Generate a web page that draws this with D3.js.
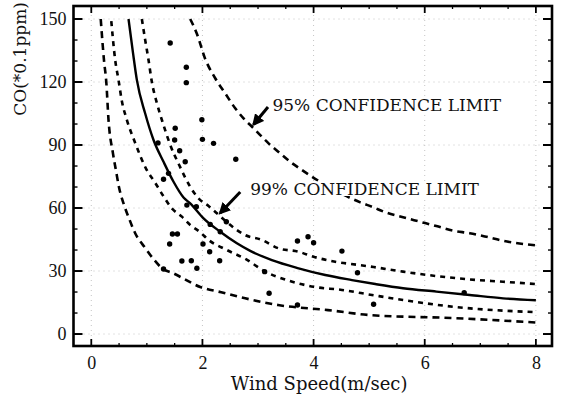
<!DOCTYPE html>
<html>
<head>
<meta charset="utf-8">
<script src="https://cdn.jsdelivr.net/npm/d3@7"></script>
<style>
	body { margin:0; background:#fff; }
	#container { width:563px; height:402px; }
	.lbl { font-family:"DejaVu Serif", serif; font-size:17px; fill:#111; }
	.tick text { font-family:"Liberation Serif", serif; font-size:18px; fill:#111; }
</style>
</head>
<body>
<div id="container"></div>
<script>

// scatter observations (wind speed m/s, CO *0.1ppm)
var obsWind = [1.42,1.71,1.71,1.99,1.51,1.20,1.50,2.00,2.20,1.59,2.60,1.69,1.30,1.39,1.72,1.89,2.43,2.14,1.46,1.55,2.32,1.41,2.01,2.13,2.31,1.63,1.80,1.90,1.30,3.71,3.90,4.00,4.51,4.79,3.12,3.20,3.71,5.08,6.71];
var obsCO   = [138.6,127,119.7,102,98,91,92.4,92.7,90.8,87.3,83.2,82,73.7,76.5,61.4,60.6,53.5,52.2,47.6,47.6,48.7,42.9,42.9,39.2,34.9,34.8,34.9,31.3,31,44.3,46.3,43.5,39.5,29.2,29.7,19.4,13.8,14.2,19.7];

// regression curve
var meanWind = [0.67,0.75,0.82,0.97,1.12,1.30,1.48,1.66,1.78,2.02,2.32,2.62,2.86,3.25,3.73,4.21,4.69,5.11,5.61,6.21,6.81,7.41,8.0];
var meanCO   = [150,134,121,105,92.4,82,72.5,65,62.2,55.1,48.7,43.2,39.6,35.2,31.3,28.1,25.7,23.8,21.8,20.2,18.6,17,16.1];

// 99% limits
var up99Wind = [0.91,0.97,1.03,1.09,1.18,1.30,1.41,1.59,1.78,1.93,2.11,2.43,2.62,2.77,3.07,3.37,3.73,4.0,4.39,4.81,5.08,5.61,6.21,6.81,7.41,8.0];
var up99CO   = [150,140,130.5,120,110,99.5,90.8,80,70.1,64.6,61,53.5,49.5,47.1,44.8,40.8,39.2,36.8,34.4,32.9,31.9,29.7,27.6,26,24.9,23.8];
var lo99Wind = [0.36,0.43,0.49,0.55,0.64,0.79,0.98,1.15,1.29,1.45,1.63,1.78,1.95,2.11,2.44,2.79,3.13,3.52,4.0,4.51,5.05,5.61,6.51,8.0];
var lo99CO   = [149,130.5,121,111,102,91,79,72,66,59.8,55.9,51.9,48.7,44.8,40,35.5,29.7,25.7,22.5,21,18.6,16.2,13,10.4];

// 95% limits
var up95Wind = [1.78,1.90,2.05,2.23,2.41,2.59,2.74,2.92,3.19,3.40,3.58,3.79,4.84,5.05,5.31,5.61,5.91,6.21,6.51,6.81,7.11,7.41,8.0];
var up95CO   = [150,143,131,121.8,114.6,107.5,102.7,98,90.8,86,82,78.1,62.7,60.6,57.8,55.6,53.5,51.4,49.2,48,46.3,44.4,42.2];
var lo95Wind = [0.17,0.23,0.27,0.31,0.39,0.45,0.49,0.59,0.68,0.79,0.97,1.11,1.29,1.47,1.64,1.96,2.32,2.77,3.36,4.26,5.02,6.51,8.0];
var lo95CO   = [150,130,120,102,86,77,71,61.4,55,48,41,36,31,29,26.7,22.4,20,17,13.8,11.4,9,7.6,5.5];

var xTicks = [0,2,4,6,8];
var yTicks = [0,30,60,90,120,150];

function zip(a, b) {
	var out = [];
	for (var i=0; i<a.length; i++) out.push([a[i], b[i]]);
	return out;
}

function render() {
	var width = 563, height = 402;
	var svg = d3.select("#container")
		.append('svg')
		.attr("width", width)
		.attr('height', height);

	var x = d3.scaleLinear().domain([-0.32, 8.29]).range([73.5, 552]);
	var y = d3.scaleLinear().domain([-5.7, 156.2]).range([346, 6]);

	// faint dotted grid
	var grid = svg.append('g').attr('stroke','#c4c4c4').attr('stroke-width',1).attr('stroke-dasharray','1,4');
	grid.selectAll('.hg').data(yTicks).enter().append('line')
		.attr('x1', x.range()[0]).attr('x2', x.range()[1])
		.attr('y1', d => y(d)).attr('y2', d => y(d));
	grid.selectAll('.vg').data(xTicks).enter().append('line')
		.attr('y1', y.range()[0]).attr('y2', y.range()[1])
		.attr('x1', d => x(d)).attr('x2', d => x(d));

	// curves
	var line = d3.line()
		.x(d => x(d[0]))
		.y(d => y(d[1]))
		.curve(d3.curveMonotoneX);

	var curves = [
		{pts: zip(meanWind, meanCO), dash: null, w: 2.4},
		{pts: zip(up99Wind, up99CO), dash: '5,5', w: 2.6},
		{pts: zip(lo99Wind, lo99CO), dash: '5,5', w: 2.6},
		{pts: zip(up95Wind, up95CO), dash: '7,5', w: 2.6},
		{pts: zip(lo95Wind, lo95CO), dash: '7,5', w: 2.6}
	];
	svg.selectAll('.curve').data(curves).enter().append('path')
		.attr('class','curve')
		.attr('d', d => line(d.pts))
		.attr('fill','none')
		.attr('stroke','#000')
		.attr('stroke-width', d => d.w)
		.attr('stroke-dasharray', d => d.dash);

	// observations
	svg.selectAll('.obs').data(zip(obsWind, obsCO)).enter().append('circle')
		.attr('class','obs')
		.attr('cx', d => x(d[0]))
		.attr('cy', d => y(d[1]))
		.attr('r', 2.7)
		.attr('fill','#000');

	// annotations
	var defs = svg.append('defs');
	defs.append('marker')
		.attr('id','head')
		.attr('viewBox','0 0 10 10')
		.attr('refX', 8).attr('refY', 5)
		.attr('markerWidth', 4).attr('markerHeight', 4)
		.attr('orient','auto')
		.append('path').attr('d','M0,0L10,5L0,10z').attr('fill','#000');

	var notes = [
		{text:'95% CONFIDENCE LIMIT', tx:3.26, ty:106, ax:[3.18,108.1], ah:[2.92,99.8]},
		{text:'99% CONFIDENCE LIMIT', tx:2.86, ty:66.2, ax:[2.68,67.6], ah:[2.32,57.6]}
	];
	notes.forEach(function(n) {
		var t = svg.append('text')
			.attr('class','lbl')
			.attr('x', x(n.tx))
			.attr('y', y(n.ty))
			.text(n.text);
		var bb = t.node().getBBox();
		svg.insert('rect', 'text')
			.attr('x', bb.x).attr('y', bb.y + 3)
			.attr('width', bb.width).attr('height', bb.height - 6)
			.attr('fill','#fff');
		svg.append('line')
			.attr('x1', x(n.ax[0])).attr('y1', y(n.ax[1]))
			.attr('x2', x(n.ah[0])).attr('y2', y(n.ah[1]))
			.attr('stroke','#000')
			.attr('stroke-width', 3)
			.attr('marker-end','url(#head)');
	});

	// axes with inward ticks
	var minorX = d3.range(0, 8.01, 0.5);
	var minorY = d3.range(0, 151, 10);
	function tickLines(sel, data, fn) {
		sel.selectAll('line').data(data).enter().append('line').each(fn);
	}
	var ax = svg.append('g').attr('stroke','#000');
	// left & right
	[x.range()[0], x.range()[1]].forEach(function(px, k) {
		var dir = k === 0 ? 1 : -1;
		var g = ax.append('g');
		tickLines(g, minorY, function(d) {
			var len = (d % 30 === 0) ? 9 : 4;
			d3.select(this).attr('x1', px).attr('x2', px + dir * len)
				.attr('y1', y(d)).attr('y2', y(d))
				.attr('stroke-width', (d % 30 === 0) ? 2 : 1.4);
		});
	});
	// bottom & top
	[y.range()[0], y.range()[1]].forEach(function(py, k) {
		var dir = k === 0 ? -1 : 1;
		var g = ax.append('g');
		tickLines(g, minorX, function(d) {
			var len = (d % 2 === 0) ? 7 : 3;
			d3.select(this).attr('y1', py).attr('y2', py + dir * len)
				.attr('x1', x(d)).attr('x2', x(d))
				.attr('stroke-width', (d % 2 === 0) ? 1.8 : 1.3);
		});
	});

	svg.append('rect')
		.attr('x', x.range()[0]).attr('y', y.range()[1])
		.attr('width', x.range()[1] - x.range()[0])
		.attr('height', y.range()[0] - y.range()[1])
		.attr('fill','none')
		.attr('stroke','#000')
		.attr('stroke-width', 2.6);

	// tick labels through d3 axes (tick marks hidden)
	svg.append('g')
		.attr('transform','translate(0,' + y.range()[0] + ')')
		.call(d3.axisBottom(x).tickValues(xTicks).tickSize(0).tickPadding(10).tickFormat(d3.format('d')))
		.call(g => g.select('.domain').remove());
	svg.append('g')
		.attr('transform','translate(' + x.range()[0] + ',0)')
		.call(d3.axisLeft(y).tickValues(yTicks).tickSize(0).tickPadding(7).tickFormat(d3.format('d')))
		.call(g => g.select('.domain').remove());

	svg.append('text')
		.attr('class','lbl')
		.style('font-size','18px')
		.attr('x', x(4.1))
		.attr('y', 390)
		.attr('text-anchor','middle')
		.text('Wind Speed(m/sec)');

	svg.append('text')
		.attr('class','lbl')
		.attr('transform','translate(26,' + y(131) + ') rotate(-90)')
		.attr('text-anchor','middle')
		.text('CO(*0.1ppm)');
}

render();
</script>
</body>
</html>
